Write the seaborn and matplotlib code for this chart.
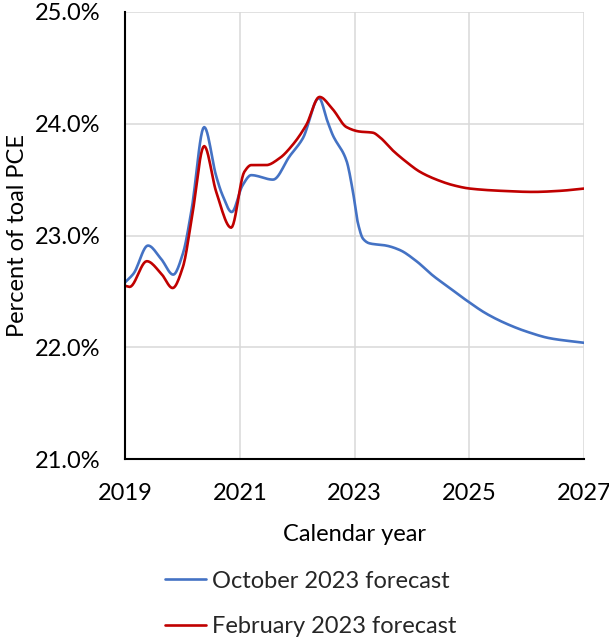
import numpy as np
import pandas as pd
import matplotlib
matplotlib.use("Agg")
import matplotlib.pyplot as plt
import seaborn as sns

# ---- data ----
oct_years = [2019.00, 2019.15, 2019.40, 2019.63, 2019.84, 2020.01, 2020.16, 2020.38,
             2020.59, 2020.70, 2020.86, 2021.05, 2021.20, 2021.58, 2021.87, 2022.10,
             2022.38, 2022.53, 2022.62, 2022.86, 2022.97, 2023.06, 2023.15, 2023.26,
             2023.55, 2023.79, 2024.08, 2024.37, 2024.66, 2024.95, 2025.30, 2025.65,
             2026.00, 2026.41, 2027.00]
oct_values = [22.58, 22.66, 22.91, 22.79, 22.65, 22.84, 23.23, 23.97,
              23.53, 23.36, 23.21, 23.45, 23.54, 23.50, 23.71, 23.87,
              24.23, 24.02, 23.90, 23.67, 23.40, 23.11, 22.97, 22.93,
              22.91, 22.87, 22.77, 22.64, 22.53, 22.42, 22.30, 22.21,
              22.14, 22.08, 22.04]

feb_years = [2019.00, 2019.08, 2019.38, 2019.63, 2019.83, 2020.01, 2020.16, 2020.38,
             2020.59, 2020.85, 2021.08, 2021.20, 2021.46, 2021.69, 2021.92, 2022.16,
             2022.39, 2022.62, 2022.86, 2023.09, 2023.32, 2023.44, 2023.67, 2023.90,
             2024.14, 2024.43, 2024.72, 2025.01, 2025.54, 2026.12, 2026.59, 2027.00]
feb_values = [22.55, 22.54, 22.77, 22.66, 22.53, 22.72, 23.14, 23.80,
              23.39, 23.07, 23.57, 23.63, 23.63, 23.69, 23.81, 23.99,
              24.24, 24.13, 23.97, 23.93, 23.92, 23.88, 23.76, 23.66,
              23.57, 23.50, 23.45, 23.42, 23.40, 23.39, 23.40, 23.42]

series_names = ["October 2023 forecast", "February 2023 forecast"]
series_colors = ["#4472C4", "#C00000"]
x_ticks = [2019, 2021, 2023, 2025, 2027]
y_ticks = [21.0, 22.0, 23.0, 24.0, 25.0]
x_label = "Calendar year"
y_label = "Percent of toal PCE"


def smooth_line(x, y, n=12):
    """Monotone cubic (Fritsch-Carlson) rendering, like a smoothed Excel line."""
    x = np.asarray(x, float)
    y = np.asarray(y, float)
    h = np.diff(x)
    d = np.diff(y) / h
    m = np.zeros_like(y)
    m[0], m[-1] = d[0], d[-1]
    for i in range(1, len(y) - 1):
        if d[i - 1] * d[i] <= 0:
            m[i] = 0.0
        else:
            w1 = 2 * h[i] + h[i - 1]
            w2 = h[i] + 2 * h[i - 1]
            m[i] = (w1 + w2) / (w1 / d[i - 1] + w2 / d[i])
    xs, ys = [], []
    for i in range(len(x) - 1):
        t = np.linspace(0, 1, n, endpoint=(i == len(x) - 2))
        h00 = 2 * t**3 - 3 * t**2 + 1
        h10 = t**3 - 2 * t**2 + t
        h01 = -2 * t**3 + 3 * t**2
        h11 = t**3 - t**2
        xs.append(x[i] + t * h[i])
        ys.append(h00 * y[i] + h10 * h[i] * m[i] + h01 * y[i + 1] + h11 * h[i] * m[i + 1])
    return np.concatenate(xs), np.concatenate(ys)


frames = []
for name, xv, yv in [(series_names[0], oct_years, oct_values),
                     (series_names[1], feb_years, feb_values)]:
    sx, sy = smooth_line(xv, yv)
    frames.append(pd.DataFrame({"year": sx, "value": sy, "series": name}))
df = pd.concat(frames, ignore_index=True)

sns.set_style("white")
plt.rcParams["font.family"] = ["Lato", "DejaVu Sans"]

FS = 17

fig = plt.figure(figsize=(6.09, 6.38), dpi=100)
ax = fig.add_axes([125 / 609, 1 - 459 / 638, (584 - 125) / 609, (459 - 12) / 638])

sns.lineplot(data=df, x="year", y="value", hue="series", hue_order=series_names,
             palette=dict(zip(series_names, series_colors)), estimator=None,
             sort=False, linewidth=1.9, ax=ax)

ax.set_xlim(2019, 2027)
ax.set_ylim(21, 25)
ax.set_xticks(x_ticks)
ax.set_xticklabels([str(t) for t in x_ticks])
ax.set_yticks(y_ticks)
ax.set_yticklabels([f"{t:.1f}%" for t in y_ticks])
ax.grid(True, color="#D9D9D9", linewidth=1.1)
ax.set_axisbelow(True)
for s in ["top", "right"]:
    ax.spines[s].set_visible(False)
for s in ["left", "bottom"]:
    ax.spines[s].set_color("black")
    ax.spines[s].set_linewidth(1.5)
ax.tick_params(axis="both", length=0, labelsize=FS, colors="black")
ax.tick_params(axis="y", pad=17.5)
ax.tick_params(axis="x", pad=17)

ax.set_xlabel(x_label, fontsize=FS, color="black")
ax.set_ylabel(y_label, fontsize=FS, color="black")
ax.xaxis.set_label_coords(0.5, -0.145)
ax.yaxis.set_label_coords(-0.2115, 0.5)

sns.move_legend(ax, loc="upper left", bbox_to_anchor=(165 / 609, 1 - 570.5 / 638),
                bbox_transform=fig.transFigure, frameon=False, title=None,
                fontsize=FS, handlelength=1.75, handletextpad=0.25,
                labelspacing=1.05, borderpad=0, borderaxespad=0)

fig.savefig("out.png", dpi=100)
